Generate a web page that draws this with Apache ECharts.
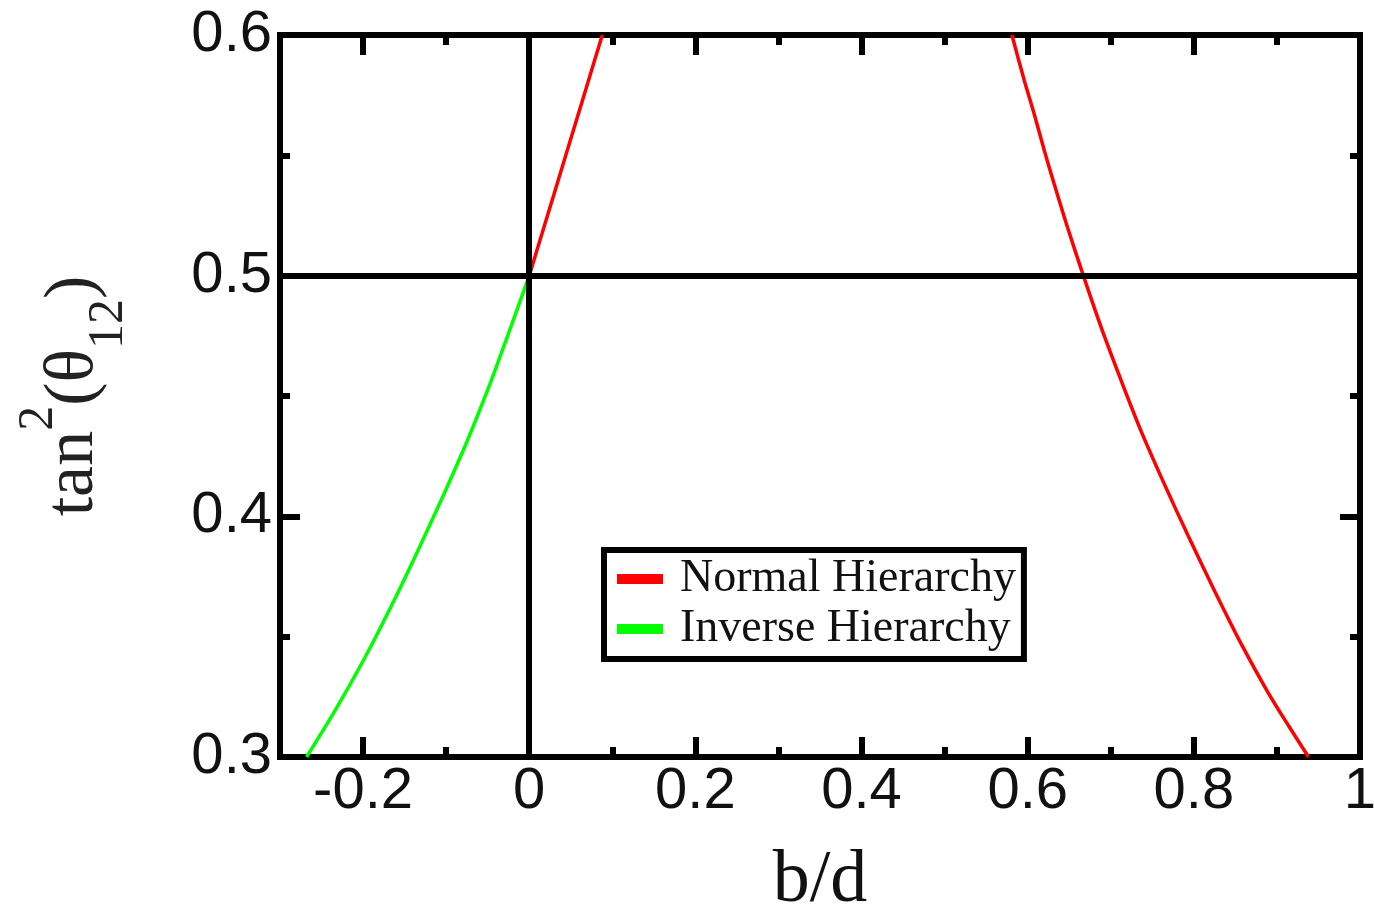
<!DOCTYPE html>
<html>
<head>
<meta charset="utf-8">
<script src="https://cdn.jsdelivr.net/npm/echarts@6/dist/echarts.min.js"></script>
<style>
html,body{margin:0;padding:0;background:#fff;}
#chart{width:1374px;height:910px;}
</style>
</head>
<body>
<div id="chart"></div>
<script>
// ---- data ----
const nhLeftX  = [0, 0.022, 0.044, 0.066, 0.088];
const nhLeftY  = [0.5, 0.525, 0.550, 0.575, 0.6];
const nhRightX = [0.581, 0.596, 0.608, 0.620, 0.632, 0.648, 0.667, 0.689, 0.713, 0.737, 0.765, 0.793, 0.825, 0.857, 0.889, 0.914, 0.938];
const nhRightY = [0.6, 0.581, 0.567, 0.552, 0.538, 0.520, 0.500, 0.478, 0.456, 0.435, 0.413, 0.392, 0.369, 0.347, 0.327, 0.313, 0.300];
const ihX = [-0.268, -0.235, -0.199, -0.167, -0.135, -0.103, -0.075, -0.050, -0.026, 0];
const ihY = [0.300, 0.3185, 0.3405, 0.362, 0.385, 0.409, 0.431, 0.4525, 0.475, 0.5];
const xMajorTicks = [-0.2, 0, 0.2, 0.4, 0.6, 0.8, 1];
const seriesNames = ['Normal Hierarchy', 'Inverse Hierarchy'];
const xName = 'b/d';

function pairs(xs, ys) { return xs.map((x, i) => [x, ys[i]]); }

const chart = echarts.init(document.getElementById('chart'));
const labelFont = {fontFamily: 'Liberation Sans', fontSize: 58, color: '#111'};
const fmt = v => String(+(+v).toFixed(2));
const noLine = {show: false, onZero: false};

function xAxisMinor(pos) {
  return {type: 'value', position: pos, min: -0.3, max: 1, interval: 0.1,
    axisLine: noLine, splitLine: {show: false},
    axisTick: {show: true, inside: true, length: 10, lineStyle: {color: '#000', width: 6}},
    axisLabel: {show: false}};
}
function xAxisMajor(pos, labels) {
  const a = {type: 'value', position: pos, min: -0.3, max: 1, interval: 0.1,
    axisLine: noLine, splitLine: {show: false},
    axisTick: {show: true, inside: true, length: 20, customValues: xMajorTicks, lineStyle: {color: '#000', width: 6}},
    axisLabel: Object.assign({show: labels, customValues: xMajorTicks, formatter: fmt, margin: 6}, labelFont)};
  if (labels) {
    a.name = xName;
    a.nameLocation = 'middle';
    a.nameGap = 88;
    a.nameTextStyle = {fontFamily: 'Liberation Serif', fontSize: 74, color: '#111'};
  }
  return a;
}
function yAxis(pos, labels) {
  const a = {type: 'value', position: pos, min: 0.3, max: 0.6, interval: 0.1,
    axisLine: noLine, splitLine: {show: false},
    axisTick: {show: true, inside: true, length: 20, lineStyle: {color: '#000', width: 6}},
    minorTick: {show: true, splitNumber: 2, length: 10, lineStyle: {color: '#000', width: 6}},
    axisLabel: Object.assign({show: labels, formatter: fmt, margin: 8}, labelFont)};
  if (labels) {
    a.name = '{t|tan}{sup|2}{t|(θ}{sub|12}{t|)}';
    a.nameLocation = 'middle';
    a.nameGap = 146;
    a.nameTextStyle = {
      color: '#222',
      rich: {
        t: {fontFamily: 'Liberation Serif', fontSize: 70, lineHeight: 120, verticalAlign: 'middle', color: '#222'},
        sup: {fontFamily: 'Liberation Serif', fontSize: 50, lineHeight: 50, verticalAlign: 'top', color: '#222'},
        sub: {fontFamily: 'Liberation Serif', fontSize: 50, lineHeight: 50, verticalAlign: 'bottom', color: '#222'}
      }
    };
  }
  return a;
}

const lineCommon = {type: 'line', showSymbol: false, smooth: 0.3, z: 3};

const option = {
  backgroundColor: '#fff',
  animation: false,
  grid: {left: 280, right: 14, top: 35, bottom: 153, show: true, containLabel: false,
    outerBoundsMode: 'none',
    borderColor: '#000', borderWidth: 6, backgroundColor: 'transparent'},
  xAxis: [xAxisMajor('bottom', true), xAxisMinor('bottom'), xAxisMajor('top', false), xAxisMinor('top')],
  yAxis: [yAxis('left', true), yAxis('right', false)],
  legend: {
    orient: 'vertical', left: 604, top: 550,
    data: seriesNames.map(n => ({name: n, icon: 'rect'})),
    itemWidth: 46, itemHeight: 10, itemGap: 0,
    padding: [4, 8, 5, 13],
    borderColor: '#000', borderWidth: 6, backgroundColor: '#fff',
    textStyle: {fontFamily: 'Liberation Serif', fontSize: 46, color: '#111', lineHeight: 50, padding: [0, 0, 0, 12]}
  },
  series: [
    Object.assign({name: seriesNames[0], data: pairs(nhLeftX, nhLeftY),
      lineStyle: {color: '#ff0000', width: 3.5}, itemStyle: {color: '#ff0000'}}, lineCommon),
    Object.assign({name: seriesNames[0], data: pairs(nhRightX, nhRightY),
      lineStyle: {color: '#ff0000', width: 3.5}, itemStyle: {color: '#ff0000'}}, lineCommon),
    Object.assign({name: seriesNames[1], data: pairs(ihX, ihY),
      lineStyle: {color: '#00ff00', width: 3.5}, itemStyle: {color: '#00ff00'},
      markLine: {silent: true, symbol: ['none', 'none'], label: {show: false},
        lineStyle: {color: '#000', width: 6, type: 'solid'},
        data: [{xAxis: 0}, {yAxis: 0.5}]}}, lineCommon)
  ]
};
chart.setOption(option);
</script>
</body>
</html>
